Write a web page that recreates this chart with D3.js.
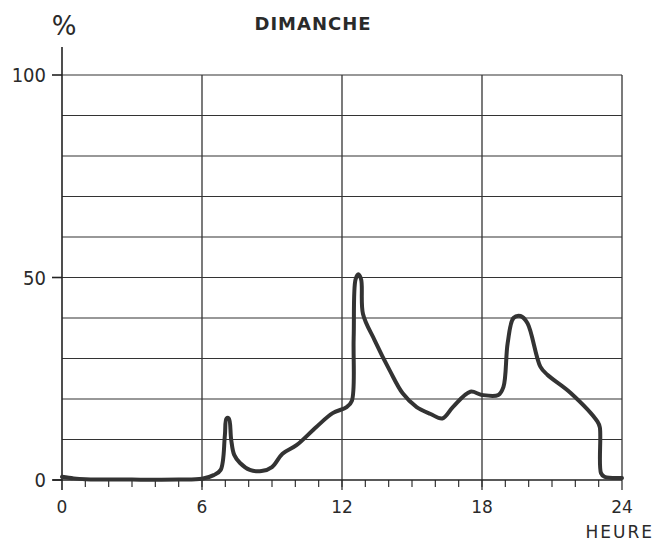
<!DOCTYPE html>
<html>
<head>
<meta charset="utf-8">
<script src="https://d3js.org/d3.v7.min.js"></script>
<style>
body { margin: 0; background: #fff; }
text { font-family: "DejaVu Sans", sans-serif; fill: #2a2a2a; }
</style>
</head>
<body>
<svg id="chart" width="659" height="541"></svg>
<script>
// hour of day and %
var hours  = [0, 0.5, 1, 3, 5, 6, 6.5, 6.8, 6.98, 7.05, 7.15, 7.25, 7.38, 7.63, 8.05, 8.55, 9.0, 9.45, 10.05, 10.9, 11.6, 12.2, 12.42, 12.5, 12.58, 12.7, 12.82, 12.9, 13.4, 14.05, 14.6, 15.2, 15.8, 16.3, 16.75, 17.5, 18.0, 18.7, 18.92, 19.1, 19.35, 19.65, 19.95, 20.5, 20.8, 21.8, 22.95, 23.05, 23.1, 23.25, 24];
var values = [0.8, 0.4, 0.2, 0.1, 0.1, 0.3, 1.2, 2.5, 11, 15.2, 15.2, 10, 6.2, 4.2, 2.5, 2.2, 3.2, 6.5, 8.6, 13.1, 16.5, 18, 19.5, 35, 49.5, 50.8, 49.5, 41, 34.5, 27, 21.4, 18, 16.3, 15.2, 18, 21.8, 21, 21, 23, 33.8, 40, 40.5, 38.7, 28, 26, 21.5, 14.4, 13, 1.7, 0.8, 0.5];
var yTicks = [0, 50, 100];
var xTicks = [0, 6, 12, 18, 24];

var margin = {top: 75, right: 37, bottom: 61, left: 62},
    width = 659 - margin.left - margin.right,
    height = 541 - margin.top - margin.bottom;

var svg = d3.select("#chart")
  .append("g")
  .attr("transform", "translate(" + margin.left + "," + margin.top + ")");

var x = d3.scaleLinear().domain([0, 24]).range([0, width]);
var y = d3.scaleLinear().domain([0, 100]).range([height, 0]);

// horizontal grid, every 10 %
svg.selectAll(".hgrid")
  .data(d3.range(10, 101, 10))
  .enter().append("line")
  .attr("x1", 0).attr("x2", width)
  .attr("y1", function(d) { return y(d); })
  .attr("y2", function(d) { return y(d); })
  .attr("stroke", "#333").attr("stroke-width", 1.2);

// vertical grid at 6 h steps
svg.selectAll(".vgrid")
  .data(xTicks.slice(1))
  .enter().append("line")
  .attr("x1", function(d) { return x(d); })
  .attr("x2", function(d) { return x(d); })
  .attr("y1", 0).attr("y2", height + 10)
  .attr("stroke", "#333").attr("stroke-width", 1.3);

// hourly ticks under the axis
svg.selectAll(".htick")
  .data(d3.range(1, 24))
  .enter().append("line")
  .attr("x1", function(d) { return x(d); })
  .attr("x2", function(d) { return x(d); })
  .attr("y1", height).attr("y2", height + 7)
  .attr("stroke", "#333").attr("stroke-width", 1.2);

// axes
svg.append("line")
  .attr("x1", -9).attr("x2", width)
  .attr("y1", height).attr("y2", height)
  .attr("stroke", "#222").attr("stroke-width", 1.6);
svg.append("line")
  .attr("x1", 0).attr("x2", 0)
  .attr("y1", -28).attr("y2", height + 10)
  .attr("stroke", "#222").attr("stroke-width", 1.6);

svg.selectAll(".ytick")
  .data(yTicks)
  .enter().append("line")
  .attr("x1", -10).attr("x2", 0)
  .attr("y1", function(d) { return y(d); })
  .attr("y2", function(d) { return y(d); })
  .attr("stroke", "#222").attr("stroke-width", 1.6);

svg.selectAll(".ylab")
  .data(yTicks)
  .enter().append("text")
  .attr("x", -16)
  .attr("y", function(d) { return y(d) + 7; })
  .attr("text-anchor", "end")
  .style("font-family", "'DejaVu Sans Condensed', 'DejaVu Sans', sans-serif")
  .style("font-size", "20px")
  .text(function(d) { return d; });

svg.selectAll(".xlab")
  .data(xTicks)
  .enter().append("text")
  .attr("x", function(d) { return x(d); })
  .attr("y", height + 33)
  .attr("text-anchor", "middle")
  .style("font-size", "17px")
  .text(function(d) { return d; });

// curve
var line = d3.line()
  .x(function(d) { return x(d[0]); })
  .y(function(d) { return y(d[1]); })
  .curve(d3.curveCatmullRom.alpha(0.5));

svg.append("path")
  .datum(d3.zip(hours, values))
  .attr("d", line)
  .attr("fill", "none")
  .attr("stroke", "#333")
  .attr("stroke-width", 4)
  .attr("stroke-linejoin", "round")
  .attr("stroke-linecap", "round");

// labels
d3.select("#chart").append("text")
  .attr("x", 64).attr("y", 35)
  .attr("text-anchor", "middle")
  .style("font-size", "26px")
  .text("%");

d3.select("#chart").append("text")
  .attr("x", 313).attr("y", 30)
  .attr("text-anchor", "middle")
  .style("font-size", "18px").style("font-weight", "bold")
  .style("letter-spacing", "1px")
  .text("DIMANCHE");

d3.select("#chart").append("text")
  .attr("x", 654).attr("y", 538)
  .attr("text-anchor", "end")
  .style("font-size", "17px")
  .style("letter-spacing", "2px")
  .text("HEURE");
</script>
</body>
</html>
